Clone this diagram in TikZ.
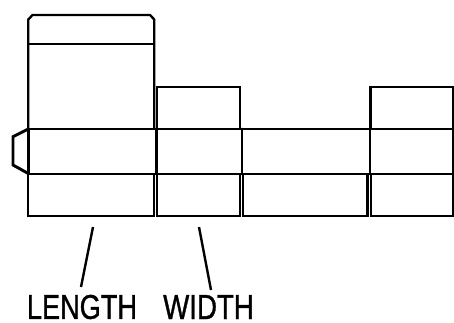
\documentclass[tikz,border=0pt]{standalone}
\usepackage{graphicx}
\usepackage{fontspec}
\setmainfont{Liberation Sans}
\newfontfamily\labfont[FakeBold=1.2]{Liberation Sans}
\tikzset{
 panel/.style={draw=black,line width=1.75pt,line join=miter},
 strong/.style={draw=black,line width=2.2pt,line cap=round},
 thinrule/.style={draw=black,line width=1.4pt},
 leader/.style={draw=black,line width=1.8pt},
 lab/.style={inner sep=0pt,anchor=center,font=\labfont}
}
\begin{document}
\begin{tikzpicture}[x=0.75pt,y=-0.75pt]
\useasboundingbox (0,0) rectangle (454,322);
% top lid
\draw[panel] (28.3,129) -- (28.3,19.5) -- (32.5,15) -- (150,15) -- (154.3,19.5) -- (154.3,129);
\draw[panel] (28.3,43.7) -- (154.3,43.7);
% upper flaps
\draw[panel] (157.3,129) -- (157.3,86.7) -- (240,86.7) -- (240,129);
\draw[panel] (370.5,129) -- (370.5,86.7) -- (452.7,86.7) -- (452.7,129);
% glue tab
\draw[strong] (28.3,129) -- (13,136.7) -- (13,165) -- (28.3,173.5);
% main band
\draw[strong] (28.3,129) -- (242,129);
\draw[thinrule] (242,129) -- (370,129);
\draw[strong] (370,129) -- (452.7,129);
\draw[panel] (28.3,174) -- (452.7,174);
\draw[strong] (28.3,129) -- (28.3,174);
\draw[strong] (156.3,129) -- (156.3,174);
\draw[strong] (242,129) -- (242,174);
\draw[strong] (370,129) -- (370,174);
\draw[panel] (452.7,129) -- (452.7,174);
% bottom flaps
\draw[panel] (28.3,174) rectangle (154,216);
\draw[panel] (157.3,174) rectangle (240,216);
\draw[panel] (243.3,174) rectangle (367.5,216);
\draw[panel] (371,174) rectangle (452.7,216);
% leaders
\coordinate (la) at (93,227);
\coordinate (lb) at (81,287);
\coordinate (wa) at (199,227);
\coordinate (wb) at (211,290);
\draw[leader] (la) -- (lb);
\draw[leader] (wa) -- (wb);
\node[lab] (length) at (82,307) {\resizebox{82.5pt}{18pt}{LENGTH}};
\node[lab] (width) at (208.5,307) {\resizebox{68pt}{18pt}{WIDTH}};
\end{tikzpicture}
\end{document}
